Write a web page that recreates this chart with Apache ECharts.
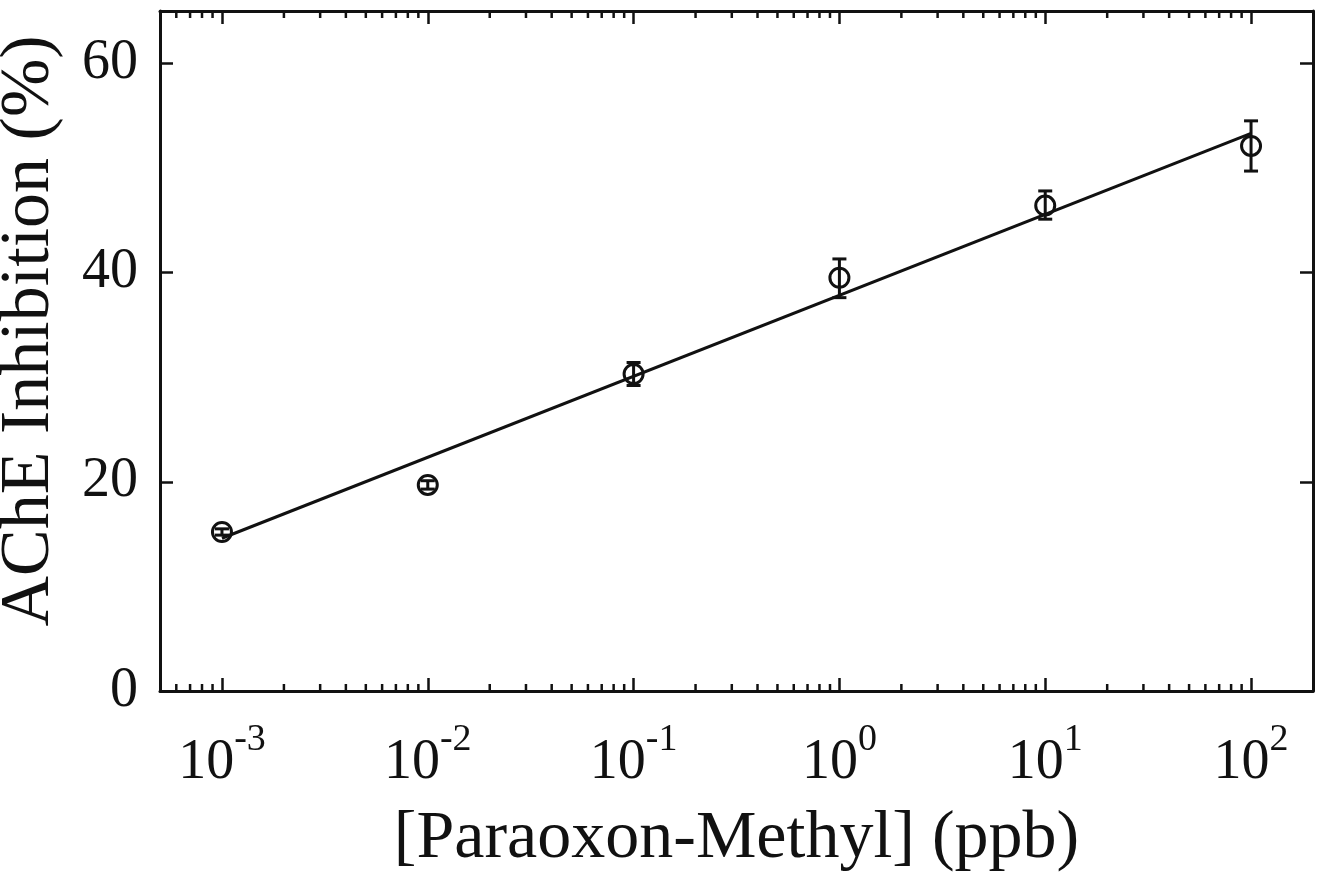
<!DOCTYPE html>
<html>
<head>
<meta charset="utf-8">
<script src="https://cdn.jsdelivr.net/npm/echarts@6/dist/echarts.min.js"></script>
<style>
  html, body { margin: 0; padding: 0; background: #fff; }
  #main { width: 1323px; height: 882px; }
</style>
</head>
<body>
<div id="main"></div>
<script>
// concentrations (ppb) and measured inhibition (%)
var conc = [0.001, 0.01, 0.1, 1, 10, 100];
var inhibition = [15.2, 19.7, 30.3, 39.5, 46.4, 52.1];
var errLow = [14.9, 19.3, 29.2, 37.6, 45.1, 49.7];
var errHigh = [15.5, 20.1, 31.4, 41.3, 47.8, 54.5];

// linear fit in log space, drawn between its end points
var fitConc = [0.001, 100];
var fitValue = [14.6, 53.3];

var xMinConc = 5e-4, xMaxConc = 200;
var yTicks = [0, 20, 40, 60];

var font = '"Liberation Serif", "Times New Roman", serif';
var ink = '#111';

var lg = function(v) { return Math.log10(v); };

var pointData = conc.map(function(c, i) { return [lg(c), inhibition[i]]; });
var errData = conc.map(function(c, i) { return [lg(c), errLow[i], errHigh[i]]; });
var fitData = fitConc.map(function(c, i) { return [lg(c), fitValue[i]]; });

// minor ticks 2..9 in every decade that falls inside the axis range
var minorTicks = [];
for (var d = -4; d <= 2; d++) {
    for (var k = 2; k <= 9; k++) {
        var v = k * Math.pow(10, d);
        if (v > xMinConc * 1.01 && v < xMaxConc * 0.99) {
            minorTicks.push([lg(v)]);
        }
    }
}

var xMin = lg(xMinConc), xMax = lg(xMaxConc);
var yMax = 65;

function xLabel(v) {
    var e = Math.round(v);
    if (Math.abs(v - e) > 1e-6) return '';
    return '{b|10}{s|' + e + '}';
}

function yLabel(v) {
    return yTicks.indexOf(v) >= 0 ? String(v) : '';
}

var myChart = echarts.init(document.getElementById('main'));

var axisLine = { onZero: false, lineStyle: { color: ink, width: 3 } };
var majorTick = { inside: true, length: 13, lineStyle: { color: ink, width: 2.5 } };

var option = {
    backgroundColor: '#fff',
    animation: false,
    grid: { left: 160, right: 10, top: 11, bottom: 191, containLabel: false, outerBoundsMode: 'none' },
    xAxis: [{
        type: 'value',
        min: xMin,
        max: xMax,
        position: 'bottom',
        name: '[Paraoxon-Methyl] (ppb)',
        nameLocation: 'middle',
        nameGap: 114,
        nameTextStyle: { fontFamily: font, fontSize: 68, color: ink },
        axisLine: axisLine,
        axisTick: majorTick,
        splitLine: { show: false },
        axisLabel: {
            margin: 30,
            formatter: xLabel,
            rich: {
                b: { fontFamily: font, fontSize: 56, color: ink, lineHeight: 70, verticalAlign: 'bottom' },
                s: { fontFamily: font, fontSize: 38, color: ink, lineHeight: 40, verticalAlign: 'top' }
            }
        }
    }, {
        type: 'value',
        min: xMin,
        max: xMax,
        position: 'top',
        axisLine: axisLine,
        axisTick: majorTick,
        axisLabel: { show: false },
        splitLine: { show: false }
    }],
    yAxis: [{
        type: 'value',
        min: 0,
        max: yMax,
        interval: 20,
        name: 'AChE Inhibition (%)',
        nameLocation: 'middle',
        nameGap: 95,
        nameTextStyle: { fontFamily: font, fontSize: 70, color: ink, padding: [0, 0, 0, 40] },
        axisLine: axisLine,
        axisTick: majorTick,
        splitLine: { show: false },
        axisLabel: {
            margin: 22,
            formatter: yLabel,
            fontFamily: font,
            fontSize: 56,
            color: ink
        }
    }, {
        type: 'value',
        min: 0,
        max: yMax,
        interval: 20,
        position: 'right',
        axisLine: axisLine,
        axisTick: majorTick,
        axisLabel: { show: false },
        splitLine: { show: false }
    }],
    series: [{
        name: 'minor ticks',
        type: 'custom',
        silent: true,
        data: minorTicks,
        renderItem: function(params, api) {
            var bottom = api.coord([api.value(0), 0]);
            var top = api.coord([api.value(0), yMax]);
            var style = { stroke: ink, lineWidth: 2.5 };
            return {
                type: 'group',
                children: [
                    { type: 'line', shape: { x1: bottom[0], y1: bottom[1], x2: bottom[0], y2: bottom[1] - 7 }, style: style },
                    { type: 'line', shape: { x1: top[0], y1: top[1], x2: top[0], y2: top[1] + 7 }, style: style }
                ]
            };
        }
    }, {
        name: 'fit',
        type: 'line',
        data: fitData,
        showSymbol: false,
        symbol: 'none',
        lineStyle: { color: ink, width: 3 }
    }, {
        name: 'error',
        type: 'custom',
        data: errData,
        renderItem: function(params, api) {
            var lo = api.coord([api.value(0), api.value(1)]);
            var hi = api.coord([api.value(0), api.value(2)]);
            var cap = 7;
            var style = { stroke: ink, lineWidth: 3 };
            return {
                type: 'group',
                children: [
                    { type: 'line', shape: { x1: lo[0], y1: lo[1], x2: hi[0], y2: hi[1] }, style: style },
                    { type: 'line', shape: { x1: lo[0] - cap, y1: lo[1], x2: lo[0] + cap, y2: lo[1] }, style: style },
                    { type: 'line', shape: { x1: hi[0] - cap, y1: hi[1], x2: hi[0] + cap, y2: hi[1] }, style: style }
                ]
            };
        },
        z: 3
    }, {
        name: 'measured',
        type: 'scatter',
        data: pointData,
        symbol: 'circle',
        symbolSize: 19,
        itemStyle: { color: 'rgba(255,255,255,0)', borderColor: ink, borderWidth: 3, opacity: 1 },
        z: 4
    }]
};

myChart.setOption(option);
</script>
</body>
</html>
